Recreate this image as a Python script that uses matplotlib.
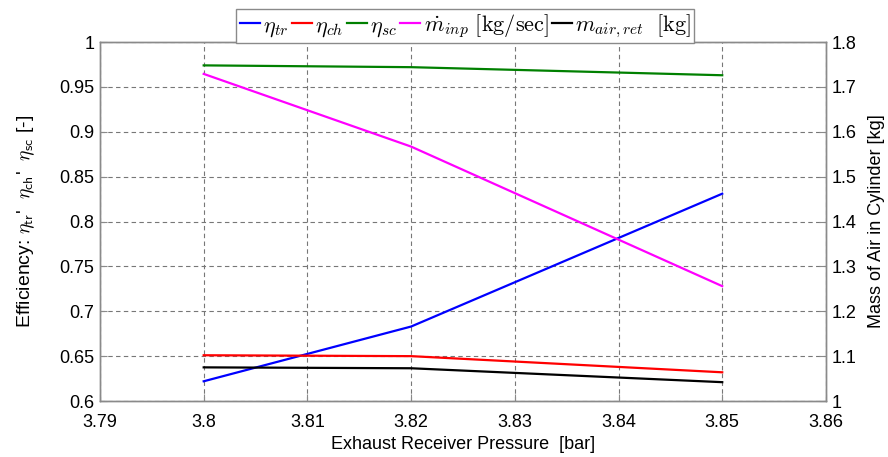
import numpy as np
import matplotlib
matplotlib.use('Agg')
import matplotlib.pyplot as plt
from matplotlib.ticker import FuncFormatter

# Data
pressure = [3.80, 3.82, 3.85]
eta_tr = [0.622, 0.683, 0.831]
eta_ch = [0.651, 0.650, 0.632]
eta_sc = [0.974, 0.972, 0.963]
m_inp = [1.729, 1.567, 1.256]
m_air_ret = [1.075, 1.073, 1.042]

x_ticks = [3.79, 3.80, 3.81, 3.82, 3.83, 3.84, 3.85, 3.86]
left_ticks = [0.6, 0.65, 0.7, 0.75, 0.8, 0.85, 0.9, 0.95, 1.0]
right_ticks = [1.0, 1.1, 1.2, 1.3, 1.4, 1.5, 1.6, 1.7, 1.8]

plt.rcParams['font.family'] = ['Liberation Sans', 'DejaVu Sans']
plt.rcParams['mathtext.fontset'] = 'cm'

spine_col = '#8a8a8a'

fig = plt.figure(figsize=(8.88, 4.57), dpi=100)
ax = fig.add_axes([0.1126, 0.1225, 0.8175, 0.7855])
ax2 = ax.twinx()

lw = 1.6
h1, = ax.plot(pressure, eta_tr, color='#0000ff', lw=lw, label=r'$\eta_{tr}$')
h2, = ax.plot(pressure, eta_ch, color='#ff0000', lw=lw, label=r'$\eta_{ch}$')
h3, = ax.plot(pressure, eta_sc, color='#008000', lw=lw, label=r'$\eta_{sc}$')
h4, = ax2.plot(pressure, m_inp, color='#ff00ff', lw=lw,
               label=r'$\dot{m}_{inp}\ \mathrm{[kg/sec]}$')
h5, = ax2.plot(pressure, m_air_ret, color='#000000', lw=lw,
               label=r'$m_{air,ret}\ \ \mathrm{[kg]}$')

ax.set_xlim(3.79, 3.86)
ax.set_ylim(0.6, 1.0)
ax2.set_ylim(1.0, 1.8)
ax.set_xticks(x_ticks)
ax.set_yticks(left_ticks)
ax2.set_yticks(right_ticks)

fmt = FuncFormatter(lambda v, pos: '%g' % round(v, 4))
ax.xaxis.set_major_formatter(fmt)
ax.yaxis.set_major_formatter(fmt)
ax2.yaxis.set_major_formatter(fmt)

ax.grid(True, color='#777777', linestyle=(0, (4, 3)), linewidth=0.8)

for a in (ax, ax2):
    for s in a.spines.values():
        s.set_color(spine_col)
        s.set_linewidth(1.0)
    a.tick_params(direction='in', length=5, color=spine_col, labelsize=13,
                  labelcolor='black', pad=4)
ax.tick_params(axis='x', top=False, pad=9)

ax.set_xlabel('Exhaust Receiver Pressure  [bar]', fontsize=13, labelpad=4)
ax.set_ylabel(r'Efficiency: $\eta_{\mathsf{tr}}$' + "'" + r'  $\eta_{\mathsf{ch}}$' + "'"
              + r'  $\eta_{\mathsf{sc}}$ [-]',
              fontsize=14, labelpad=16)
ax2.set_ylabel('Mass of Air in Cylinder [kg]', fontsize=13, labelpad=8)

leg = fig.legend(handles=[h1, h2, h3, h4, h5], loc='lower center',
                 bbox_to_anchor=(0.524, 0.905), ncol=5, fontsize=16,
                 handlelength=0.9, handletextpad=0.15, columnspacing=0.15,
                 borderpad=0.15, borderaxespad=0, fancybox=False, framealpha=1)
leg.get_frame().set_edgecolor(spine_col)
leg.get_frame().set_linewidth(1.0)

fig.savefig('out.png', dpi=100)
